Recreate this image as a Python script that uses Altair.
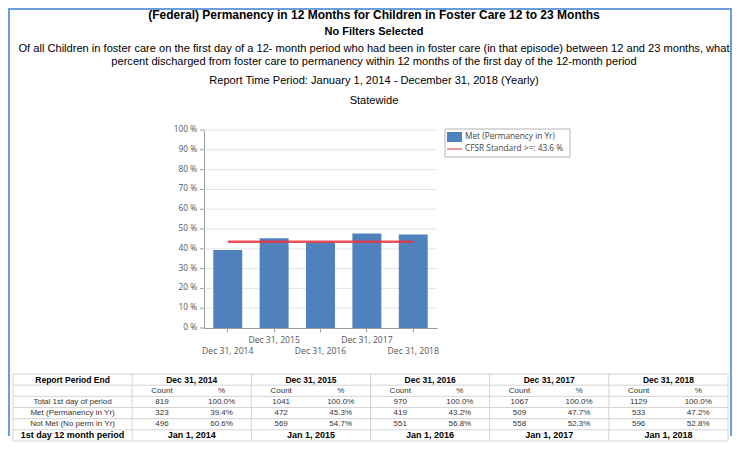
import altair as alt
import pandas as pd

# ---------------- data ----------------
years = ["Dec 31, 2014", "Dec 31, 2015", "Dec 31, 2016", "Dec 31, 2017", "Dec 31, 2018"]
first_day = ["Jan 1, 2014", "Jan 1, 2015", "Jan 1, 2016", "Jan 1, 2017", "Jan 1, 2018"]
total_count = [819, 1041, 970, 1067, 1129]
met_count = [323, 472, 419, 509, 533]
not_met_count = [496, 569, 551, 558, 596]
total_pct = [100.0, 100.0, 100.0, 100.0, 100.0]
met_pct = [39.4, 45.3, 43.2, 47.7, 47.2]
not_met_pct = [60.6, 54.7, 56.8, 52.3, 52.8]
standard = 43.6
series_names = ["Met (Permanency in Yr)", "CFSR Standard >=: 43.6 %"]
row_labels = ["Total 1st day of period", "Met (Permanency in Yr)", "Not Met (No perm in Yr)"]
table_header = "Report Period End"
table_footer = "1st day 12 month period"
sub_headers = ["Count", "%"]
y_ticks = [0, 10, 20, 30, 40, 50, 60, 70, 80, 90, 100]
y_tick_labels = ["0 %", "10 %", "20 %", "30 %", "40 %", "50 %", "60 %", "70 %", "80 %", "90 %", "100 %"]

title_main = "(Federal) Permanency in 12 Months for Children in Foster Care 12 to 23 Months"
title_filters = "No Filters Selected"
desc_line1 = ("Of all Children in foster care on the first day of a 12- month period who had been in foster care "
              "(in that episode) between 12 and 23 months, what")
desc_line2 = "percent discharged from foster care to permanency within 12 months of the first day of the 12-month period"
period_line = "Report Time Period: January 1, 2014 - December 31, 2018 (Yearly)"
scope_line = "Statewide"

# ---------------- style ----------------
AX_FONT = "Open Sans"
TXT_FONT = "Liberation Sans"
BLUE = "#4f81bd"
RED = "#e8323e"
BORDER = "#6a9fdc"
GRID = "#d4d4d4"
AXIS_GREY = "#9a9a9a"

PLOT_W, PLOT_H = 233, 198
PAD = {"left": 196, "top": 122, "right": 295, "bottom": 114}

# ---------------- main plot ----------------
df = pd.DataFrame({"period": years, "met": met_pct, "std": [standard] * len(years)})
ticks_df = pd.DataFrame({"v": y_ticks, "lab": y_tick_labels})

x_enc = alt.X(
    "period:N",
    sort=years,
    title=None,
    scale=alt.Scale(paddingInner=0.376, paddingOuter=0.2),
    axis=alt.Axis(
        labelAngle=0,
        labelOverlap=False,
        labelFont=AX_FONT,
        labelFontSize=8.6,
        labelColor="#555555",
        labelBaseline="top",
        labelPadding={
            "condition": {"test": "indexof(['Dec 31, 2015', 'Dec 31, 2017'], datum.value) >= 0", "value": 3},
            "value": 14,
        },
        tickSize=4,
        tickColor=AXIS_GREY,
        domainColor=AXIS_GREY,
        grid=False,
    ),
)

y_scale = alt.Scale(domain=[0, 100], nice=False)
y_axis = alt.Axis(labels=False, ticks=False, grid=False, domainColor=AXIS_GREY)

gridlines = alt.Chart(ticks_df).transform_filter(alt.datum.v > 0).mark_rule(color="#e4e4e4", strokeWidth=1).encode(
    y=alt.Y("v:Q", title=None, scale=y_scale, axis=y_axis)
)
y_tickmarks = alt.Chart(ticks_df).mark_rule(color=AXIS_GREY, strokeWidth=1).encode(
    x=alt.value(-4), x2=alt.value(0), y=alt.Y("v:Q", title=None, scale=y_scale, axis=y_axis)
)
y_labels = alt.Chart(ticks_df).mark_text(
    font=AX_FONT, fontSize=8.3, color="#555555", align="right", baseline="middle"
).encode(
    x=alt.value(-7), y=alt.Y("v:Q", title=None, scale=y_scale, axis=y_axis), text="lab:N"
)

bars = alt.Chart(df).mark_bar(color=BLUE).encode(
    x=x_enc, y=alt.Y("met:Q", title=None, scale=y_scale, axis=y_axis)
)
std_line = alt.Chart(df).mark_line(color=RED, strokeWidth=2.5, opacity=0.85).encode(
    x=alt.X("period:N", sort=years, title=None),
    y=alt.Y("std:Q", title=None, scale=y_scale, axis=y_axis),
)
main = alt.layer(gridlines, bars, std_line, y_tickmarks, y_labels)

# ---------------- table ----------------
cells = []
cells.append({"text": table_header, "c": 1.0, "r": 0, "kind": "head"})
for i, yr in enumerate(years):
    cells.append({"text": yr, "c": 3.0 + 2 * i, "r": 0, "kind": "head"})
    cells.append({"text": sub_headers[0], "c": 2.5 + 2 * i, "r": 1, "kind": "body"})
    cells.append({"text": sub_headers[1], "c": 3.5 + 2 * i, "r": 1, "kind": "body"})
row_data = [(total_count, total_pct), (met_count, met_pct), (not_met_count, not_met_pct)]
for k, (label, (counts, pcts)) in enumerate(zip(row_labels, row_data)):
    cells.append({"text": label, "c": 1.0, "r": 2 + k, "kind": "body"})
    for i in range(len(years)):
        cells.append({"text": str(counts[i]), "c": 2.5 + 2 * i, "r": 2 + k, "kind": "body"})
        cells.append({"text": f"{pcts[i]:.1f}%", "c": 3.5 + 2 * i, "r": 2 + k, "kind": "body"})
cells.append({"text": table_footer, "c": 1.0, "r": 5, "kind": "foot"})
for i, fd in enumerate(first_day):
    cells.append({"text": fd, "c": 3.0 + 2 * i, "r": 5, "kind": "foot"})
cells_df = pd.DataFrame(cells)
cells_df["rc"] = cells_df["r"] + 0.5

n_rows = 6
n_cols = 2 + 2 * len(years)
tx_scale = alt.Scale(domain=[0, n_cols], range=[-191, 524], nice=False, zero=False)
ty_scale = alt.Scale(domain=[0, n_rows], range=[244, 311], nice=False, zero=False)

h_df = pd.DataFrame({"r": list(range(n_rows + 1)), "x0": 0, "x1": n_cols})
v_df = pd.DataFrame({"c": list(range(0, n_cols + 1, 2)), "y0": 0, "y1": n_rows})

h_rules = alt.Chart(h_df).mark_rule(color=GRID, strokeWidth=1).encode(
    x=alt.X("x0:Q", scale=tx_scale, axis=None),
    x2="x1:Q",
    y=alt.Y("r:Q", scale=ty_scale, axis=None),
)
v_rules = alt.Chart(v_df).mark_rule(color=GRID, strokeWidth=1).encode(
    x=alt.X("c:Q", scale=tx_scale, axis=None),
    y=alt.Y("y0:Q", scale=ty_scale, axis=None),
    y2="y1:Q",
)


def table_text(kind, weight, size, color):
    return (
        alt.Chart(cells_df)
        .transform_filter(alt.datum.kind == kind)
        .mark_text(font=TXT_FONT, fontSize=size, fontWeight=weight, color=color, baseline="middle", align="center")
        .encode(
            x=alt.X("c:Q", scale=tx_scale, axis=None),
            y=alt.Y("rc:Q", scale=ty_scale, axis=None),
            text="text:N",
        )
    )


table = alt.layer(
    h_rules,
    v_rules,
    table_text("body", "normal", 8, "#333333"),
    table_text("head", "bold", 8.5, "#000000"),
    table_text("foot", "bold", 9, "#000000"),
)

# ---------------- titles ----------------
one = pd.DataFrame({"k": [0]})


def label(text, x, y, size, weight="normal", align="center", font=TXT_FONT, color="#000000"):
    return (
        alt.Chart(pd.DataFrame({"t": [text]}))
        .mark_text(font=font, fontSize=size, fontWeight=weight, align=align, baseline="middle", color=color)
        .encode(text="t:N", x=alt.value(x), y=alt.value(y))
    )


titles = [
    label(title_main, 170, -115, 12, "bold"),
    label(title_filters, 170, -98, 11, "bold"),
    label(desc_line1, 170, -81, 11.1),
    label(desc_line2, 170, -68, 11.1),
    label(period_line, 170, -49, 11.1),
    label(scope_line, 170, -29, 11.1),
]

# ---------------- legend ----------------
legend_box = alt.Chart(one).mark_rect(fill="white", stroke="#b4b4b4", strokeWidth=1).encode(
    x=alt.value(241), x2=alt.value(366), y=alt.value(-1), y2=alt.value(27)
)
legend_swatch = alt.Chart(one).mark_rect(fill=BLUE).encode(
    x=alt.value(243), x2=alt.value(258), y=alt.value(2), y2=alt.value(12)
)
legend_line = alt.Chart(one).mark_rule(color=RED, strokeWidth=1).encode(
    x=alt.value(243), x2=alt.value(258), y=alt.value(19)
)
legend_texts = [
    label(series_names[0], 261, 7, 8.3, align="left", font=AX_FONT, color="#444444"),
    label(series_names[1], 261, 19, 8.3, align="left", font=AX_FONT, color="#444444"),
]

# ---------------- page border ----------------
border_left = alt.Chart(one).mark_rule(color=BORDER, strokeWidth=2).encode(
    x=alt.value(-195), y=alt.value(-121), y2=alt.value(306)
)
border_right = alt.Chart(one).mark_rule(color=BORDER, strokeWidth=2).encode(
    x=alt.value(527), y=alt.value(-121), y2=alt.value(306)
)
border_top = alt.Chart(one).mark_rule(color=BORDER, strokeWidth=2).encode(
    x=alt.value(-196), x2=alt.value(528), y=alt.value(-121)
)

chart = (
    alt.layer(
        main,
        table,
        *titles,
        legend_box,
        legend_swatch,
        legend_line,
        *legend_texts,
        border_left,
        border_right,
        border_top,
    )
    .resolve_scale(x="independent", y="independent")
    .properties(
        width=PLOT_W,
        height=PLOT_H,
        padding=PAD,
        autosize=alt.AutoSizeParams(type="none"),
        background="white",
    )
    .configure_view(stroke=None)
)

chart.save("out.html", embed_options={"renderer": "svg", "actions": False})
